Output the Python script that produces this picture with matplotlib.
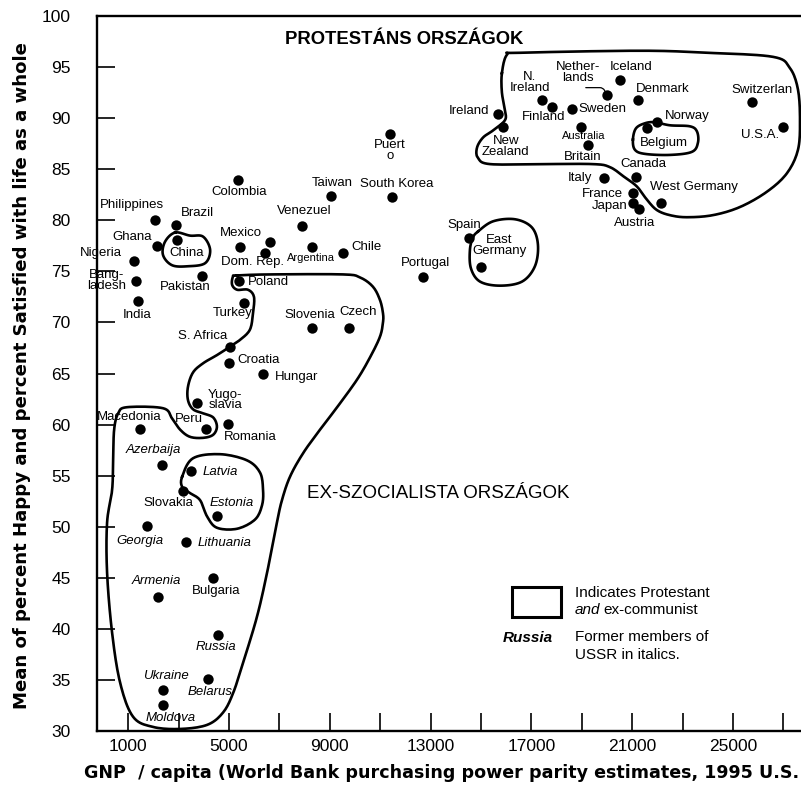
import numpy as np
import matplotlib
matplotlib.use("Agg")
import matplotlib.pyplot as plt
from matplotlib.patches import Rectangle

plt.rcParams['font.family'] = ['Liberation Sans', 'DejaVu Sans']

# --- data: GNP/capita (PPP, 1995 US$) and % happy/satisfied
countries = ['Philippines', 'Brazil', 'China', 'Ghana', 'Nigeria', 'Bangladesh', 'India',
             'Pakistan', 'Mexico', '', 'Dom. Rep.', 'Colombia', 'Poland', 'Turkey',
             'S. Africa', 'Croatia', 'Hungary', 'Yugoslavia', 'Peru', 'Romania', 'Macedonia',
             'Azerbaijan', 'Latvia', 'Slovakia', 'Estonia', 'Georgia', 'Lithuania', 'Bulgaria',
             'Armenia', 'Russia', 'Belarus', 'Ukraine', 'Moldova', 'Slovenia', 'Czech',
             'Puerto Rico', 'Taiwan', 'South Korea', 'Venezuela', 'Argentina', 'Chile',
             'Portugal', 'Spain', 'East Germany', 'Ireland', 'New Zealand', 'N. Ireland',
             'Finland', 'Sweden', 'Netherlands', 'Iceland', 'Denmark', 'Norway', 'Belgium',
             'Australia', 'Britain', 'Switzerland', 'U.S.A.', 'Canada', 'Italy', 'France',
             'Japan', 'Austria', 'West Germany']
labels = ['Philippines', 'Brazil', 'China', 'Ghana', 'Nigeria', 'Bang-\nladesh', 'India',
          'Pakistan', 'Mexico', '', 'Dom. Rep.', 'Colombia', 'Poland', 'Turkey',
          'S. Africa', 'Croatia', 'Hungar', 'Yugo-\nslavia', 'Peru', 'Romania', 'Macedonia',
          'Azerbaija', 'Latvia', 'Slovakia', 'Estonia', 'Georgia', 'Lithuania', 'Bulgaria',
          'Armenia', 'Russia', 'Belarus', 'Ukraine', 'Moldova', 'Slovenia', 'Czech',
          'Puert\no', 'Taiwan', 'South Korea', 'Venezuel', 'Argentina', 'Chile',
          'Portugal', 'Spain', 'East\nGermany', 'Ireland', 'New\nZealand', 'N.\nIreland',
          'Finland', 'Sweden', 'Nether-\nlands', 'Iceland', 'Denmark', 'Norway', 'Belgium',
          'Australia', 'Britain', 'Switzerlan', 'U.S.A.', 'Canada', 'Italy', 'France',
          'Japan', 'Austria', 'West Germany']
gnp = [2060, 2900, 2940, 2140, 1230, 1310, 1390,
       3930, 5440, 6630, 6430, 5360, 5400, 5600,
       5040, 5000, 6350, 3730, 4090, 4960, 1470,
       2340, 3490, 3170, 4520, 1750, 3290, 4370,
       2180, 4560, 4170, 2380, 2380, 8290, 9760,
       11390, 9050, 11470, 7900, 8290, 9520,
       12700, 14520, 15000, 15670, 15870, 17420,
       17820, 18610, 20000, 20520, 21230, 21980, 21590,
       18970, 19250, 25750, 26980, 21150, 19880, 21030,
       21030, 21270, 22140]
happy = [80.0, 79.5, 78.1, 77.5, 76.0, 74.1, 72.1,
         74.5, 77.4, 77.9, 76.8, 83.9, 74.1, 71.9,
         67.6, 66.0, 65.0, 62.1, 59.6, 60.1, 59.6,
         56.0, 55.5, 53.5, 51.0, 50.1, 48.5, 45.0,
         43.1, 39.4, 35.1, 34.0, 32.5, 69.5, 69.5,
         88.4, 82.4, 82.3, 79.4, 77.4, 76.8,
         74.4, 78.3, 75.4, 90.4, 89.1, 91.8,
         91.1, 90.9, 92.3, 93.7, 91.8, 89.6, 89.0,
         89.1, 87.4, 91.6, 89.1, 84.2, 84.1, 82.7,
         81.7, 81.1, 81.7]
former_ussr = ['Azerbaijan', 'Latvia', 'Estonia', 'Georgia', 'Lithuania', 'Armenia',
               'Russia', 'Belarus', 'Ukraine', 'Moldova']

yticks = list(range(30, 101, 5))
xticks = [1000, 5000, 9000, 13000, 17000, 21000, 25000]
xminor = [3000, 7000, 11000, 15000, 19000, 23000, 27000]

# outlines (GNP, happiness)
protestant_outline = [(15830, 94.4), (16030, 96.2), (16550, 96.4), (21310, 96.6),
                      (23970, 96.4), (26590, 96.0), (27260, 94.9), (27580, 92.8),
                      (27660, 89.8), (27580, 86.9), (27140, 84.6), (26350, 82.8),
                      (25280, 81.3), (24200, 80.5), (23170, 80.3), (22500, 80.5),
                      (21980, 81.0), (21590, 82.0), (21190, 83.3), (20710, 84.2),
                      (20120, 85.2), (19440, 85.5), (17340, 85.5), (15360, 85.5),
                      (14880, 86.1), (14840, 87.1), (15080, 88.1), (15480, 88.8),
                      (15950, 89.8), (15950, 90.8), (15830, 92.5)]
belgium_outline = [(21030, 87.9), (21150, 89.0), (21510, 89.5), (21900, 89.6),
                   (22500, 89.3), (23290, 89.2), (23570, 88.7), (23610, 87.6),
                   (23370, 86.7), (22500, 86.4), (21510, 86.5), (21110, 86.9)]
east_germany_outline = [(14880, 78.9), (15480, 79.9), (16350, 80.1), (17020, 79.3),
                        (17260, 77.6), (17140, 75.5), (16630, 74.0), (15750, 73.6),
                        (14960, 74.0), (14600, 75.3), (14560, 77.1), (14680, 78.3)]
china_outline = [(2860, 78.8), (3450, 78.5), (3970, 78.4), (4250, 77.1), (4050, 75.8),
                 (3370, 75.5), (2740, 75.6), (2380, 76.6), (2460, 77.9)]
baltic_outline = [(3140, 54.9), (3570, 56.7), (4640, 57.1), (5710, 56.5), (6230, 55.3),
                  (6350, 53.6), (6310, 52.1), (6030, 50.7), (5320, 49.8), (4520, 49.9),
                  (4130, 51.0), (3850, 52.6), (3450, 53.3), (3140, 53.9)]
excommunist_outline = [(5320, 74.6), (6630, 74.7), (9520, 74.7), (10200, 74.4),
                       (10710, 73.5), (10990, 72.2), (11110, 70.9), (11110, 70.0),
                       (10990, 68.6), (10600, 66.6), (10080, 64.4), (9290, 61.7),
                       (8610, 59.5), (7940, 57.2), (7420, 54.9), (7100, 52.6),
                       (6900, 50.4), (6510, 45.5), (6110, 41.2), (5560, 36.7),
                       (5160, 33.7), (4760, 31.8), (4130, 30.6), (3060, 30.2),
                       (1980, 30.4), (1190, 31.4), (680, 34.7), (360, 39.6),
                       (160, 45.5), (160, 50.4), (360, 53.6), (400, 56.5),
                       (440, 59.5), (600, 61.1), (950, 61.7), (2380, 61.6),
                       (2740, 60.6), (3060, 59.5), (3450, 58.8), (3970, 58.7),
                       (4370, 59.0), (4520, 59.8), (4370, 60.7), (3970, 61.1),
                       (3570, 61.5), (3370, 62.4), (3370, 63.7), (3570, 65.1),
                       (3970, 66.0), (4520, 66.8), (4960, 67.5), (5440, 68.3),
                       (5830, 69.3), (5950, 70.9), (5990, 72.5), (5750, 73.2),
                       (5320, 73.2), (5120, 73.7), (5160, 74.5)]

# label offsets in pixels from each dot
offsets = {
    'Philippines': (-23, 15), 'Brazil': (21, 12), 'China': (9, -13), 'Ghana': (-25, 9),
    'Nigeria': (-33, 8), 'Bangladesh': (-29, 0), 'India': (-1, -14), 'Pakistan': (-17, -11),
    'Mexico': (1, 14), 'Dom. Rep.': (-13, -9), 'Colombia': (1, -12), 'Poland': (29, -1),
    'Turkey': (-11, -10), 'S. Africa': (-27, 11), 'Croatia': (30, 3), 'Hungary': (34, -3),
    'Yugoslavia': (28, 3), 'Peru': (-17, 10), 'Romania': (22, -13), 'Macedonia': (-11, 12),
    'Azerbaijan': (-9, 15), 'Latvia': (29, -1), 'Slovakia': (-15, -12), 'Estonia': (15, 14),
    'Georgia': (-7, -15), 'Lithuania': (39, -1), 'Bulgaria': (3, -13), 'Armenia': (-2, 16),
    'Russia': (-2, -12), 'Belarus': (2, -13), 'Ukraine': (3, 14), 'Moldova': (8, -13),
    'Slovenia': (-2, 13), 'Czech': (9, 16), 'Puerto Rico': (0, -16), 'Taiwan': (1, 13),
    'South Korea': (5, 13), 'Venezuela': (2, 15), 'Argentina': (-1, -11), 'Chile': (24, 6),
    'Portugal': (2, 14), 'Spain': (-5, 13), 'East Germany': (18, 22), 'Ireland': (-29, 3),
    'New Zealand': (3, -19), 'N. Ireland': (-12, 17), 'Finland': (-8, -10), 'Sweden': (30, 0),
    'Netherlands': (-29, 22), 'Iceland': (11, 13), 'Denmark': (25, 11), 'Norway': (30, 6),
    'Belgium': (17, -15), 'Australia': (3, -9), 'Britain': (-5, -12), 'Switzerland': (10, 12),
    'U.S.A.': (-23, -8), 'Canada': (7, 13), 'Italy': (-24, 0), 'France': (-30, -1),
    'Japan': (-23, -3), 'Austria': (-4, -14), 'West Germany': (33, 16),
}
small = ['Argentina', 'Australia']


def smooth(pts, n=10):
    # closed Catmull-Rom curve through the outline vertices
    p = np.asarray(pts, float)
    m = len(p)
    t = np.linspace(0, 1, n, endpoint=False)[:, None]
    out = []
    for i in range(m):
        p0, p1, p2, p3 = p[i - 1], p[i], p[(i + 1) % m], p[(i + 2) % m]
        out.append(0.5 * (2 * p1 + (-p0 + p2) * t + (2 * p0 - 5 * p1 + 4 * p2 - p3) * t ** 2
                          + (-p0 + 3 * p1 - 3 * p2 + p3) * t ** 3))
    out = np.vstack(out)
    return np.vstack([out, out[:1]])


W, H = 801, 790
fig = plt.figure(figsize=(W / 100, H / 100), dpi=100)
ax = fig.add_axes([97 / W, 1 - 731 / H, (W - 97) / W, (731 - 16) / H])
ax.set_xlim(-240, 27700)
ax.set_ylim(30, 100)

for ol in [protestant_outline, belgium_outline, east_germany_outline, china_outline,
           baltic_outline, excommunist_outline]:
    c = smooth(ol)
    ax.plot(c[:, 0], c[:, 1], color='black', lw=1.9, solid_joinstyle='round', zorder=2)

ax.scatter(gnp, happy, s=56, color='black', zorder=3, linewidths=0)

for name, lab, x, y in zip(countries, labels, gnp, happy):
    if not lab:
        continue
    dx, dy = offsets[name]
    style = 'italic' if name in former_ussr else 'normal'
    size = 8 if name in small else 9.5
    ax.annotate(lab, (x, y), xytext=(dx, dy), textcoords='offset pixels',
                ha='center', va='center', fontsize=size, style=style,
                linespacing=0.85, zorder=4)

# leader from "lands" to the Netherlands dot
i = countries.index('Netherlands')
ax.annotate('', xy=(gnp[i], happy[i]), xytext=(-24, 7), textcoords='offset pixels',
            arrowprops=dict(arrowstyle='-', lw=0.9, color='black',
                            connectionstyle='angle,angleA=0,angleB=-60,rad=3'))

for s in ['left', 'bottom', 'top']:
    ax.spines[s].set_linewidth(1.7)
ax.spines['right'].set_visible(False)

ax.set_yticks(yticks)
ax.set_xticks(xticks)
ax.set_xticks(xminor, minor=True)
ax.tick_params(axis='both', which='both', direction='in', length=13, width=1.2)
ax.tick_params(axis='y', pad=19, labelsize=12.5)
ax.tick_params(axis='x', pad=6, labelsize=12.5)
ax.tick_params(top=False, right=False)

fig.text(22 / W, 1 - 376 / H, 'Mean of percent Happy and percent Satisfied with life as a whole',
         rotation=90, ha='center', va='center', fontsize=13.1, fontweight='bold',
         family='DejaVu Sans')
fig.text(84 / W, 1 - 773 / H,
         'GNP  / capita (World Bank purchasing power parity estimates, 1995 U.S.',
         ha='left', va='center', fontsize=12.6, fontweight='bold', family='DejaVu Sans')

fig.text(404 / W, 1 - 40 / H, 'PROTESTÁNS ORSZÁGOK', ha='center', va='center',
         fontsize=13.3, fontweight='bold')
fig.text(438 / W, 1 - 493 / H, 'EX-SZOCIALISTA ORSZÁGOK', ha='center', va='center',
         fontsize=13.5)

# legend
fig.patches.append(Rectangle((512 / W, 1 - 617 / H), 49 / W, 30 / H, fill=False,
                             lw=2.2, edgecolor='black', transform=fig.transFigure))
fig.text(575 / W, 1 - 593 / H, 'Indicates Protestant', ha='left', va='center', fontsize=11)
fig.text(575 / W, 1 - 610 / H, 'and', ha='left', va='center', fontsize=11, style='italic')
fig.text(603 / W, 1 - 610 / H, 'ex-communist', ha='left', va='center', fontsize=11)
fig.text(503 / W, 1 - 638 / H, 'Russia', ha='left', va='center', fontsize=11,
         style='italic', fontweight='bold')
fig.text(575 / W, 1 - 637 / H, 'Former members of', ha='left', va='center', fontsize=11)
fig.text(575 / W, 1 - 655 / H, 'USSR in italics.', ha='left', va='center', fontsize=11)

fig.savefig('out.png', dpi=100)
